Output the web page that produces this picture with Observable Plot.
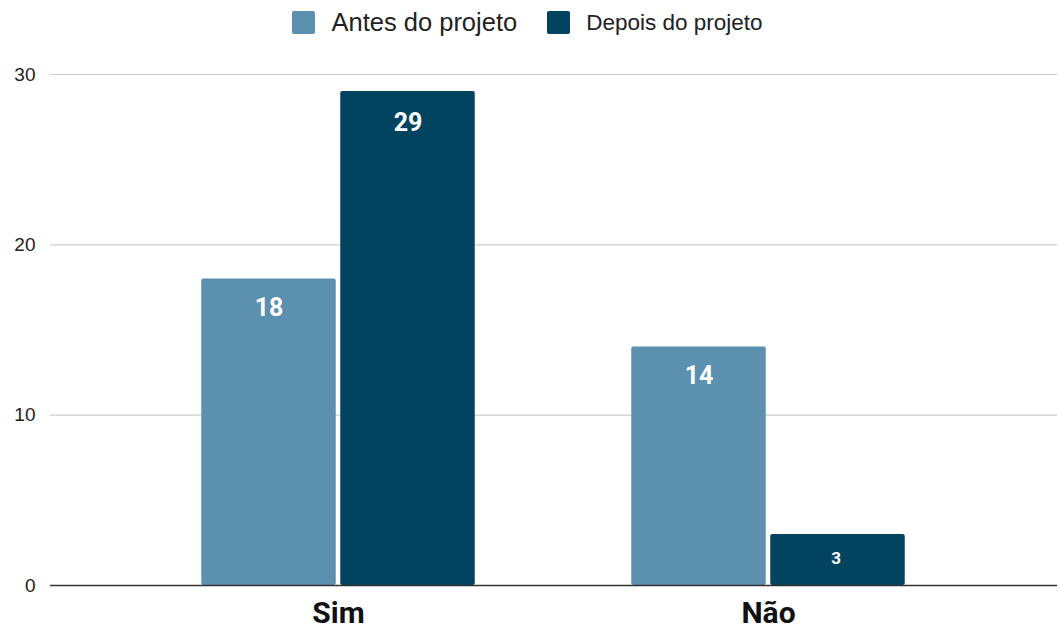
<!DOCTYPE html>
<html>
<head>
<meta charset="utf-8">
<script src="https://cdn.jsdelivr.net/npm/d3@7"></script>
<script src="https://cdn.jsdelivr.net/npm/@observablehq/plot@0.6"></script>
<style>
  html, body { margin: 0; padding: 0; background: #fff; }
  #legend { height: 45px; display: flex; align-items: center; justify-content: center; font-family: "Liberation Sans", Arial, sans-serif; color: #222; padding-right: 4px; }
  .item { display: flex; align-items: center; margin: 0 15px; }
  .sw { width: 23px; height: 23px; border-radius: 2px; margin-right: 16px; }
  svg { display: block; }
</style>
</head>
<body>
<div id="legend"></div>
<div id="chart"></div>
<script>
const categories = ["Sim", "Não"];
const series = ["Antes do projeto", "Depois do projeto"];
const antes = [18, 14];
const depois = [29, 3];
const yTicks = [0, 10, 20, 30];
const colors = ["#5b90ae", "#02445f"];

const data = [];
categories.forEach((c, i) => {
  data.push({category: c, series: series[0], value: antes[i]});
  data.push({category: c, series: series[1], value: depois[i]});
});

// legend
const legend = document.getElementById("legend");
const legendSizes = [25.5, 22.5];
series.forEach((s, i) => {
  const it = document.createElement("div");
  it.className = "item";
  it.innerHTML = `<div class="sw" style="background:${colors[i]}"></div><span style="font-size:${legendSizes[i]}px">${s}</span>`;
  legend.appendChild(it);
});

const bw = 430.5; // band width in px
const half = bw / 2;
const barW = 135, gap = 4;

const chart = Plot.plot({
  width: 1059,
  height: 588,
  marginLeft: 50,
  marginRight: 2,
  marginTop: 29,
  marginBottom: 48,
  style: {fontFamily: "Liberation Sans, Arial, sans-serif", background: "#fff"},
  x: {domain: categories, padding: 0, range: [121.75, 983.25], label: null},
  y: {domain: [0, 30], label: null},
  color: {domain: series, range: colors},
  marks: [
    Plot.ruleY(yTicks.filter(d => d > 0), {stroke: "#cccccc", strokeWidth: 1.2}),
    Plot.barY(data.filter(d => d.series === series[0]), {
      x: "category", y: "value", fill: "series", rx: 2,
      insetLeft: half - barW - gap / 2, insetRight: half + gap / 2
    }),
    Plot.barY(data.filter(d => d.series === series[1]), {
      x: "category", y: "value", fill: "series", rx: 2,
      insetLeft: half + gap / 2, insetRight: half - barW - gap / 2
    }),
    Plot.ruleY([0], {stroke: "#333", strokeWidth: 1.5}),
    Plot.text(data.filter(d => d.series === series[0]), {
      x: "category", y: "value", text: d => String(d.value), dx: -(gap / 2 + barW / 2), dy: 29,
      fill: "#fff", fontSize: 25, fontWeight: "bold", fontFamily: "Roboto, sans-serif"
    }),
    Plot.text(data.filter(d => d.series === series[1] && d.value >= 5), {
      x: "category", y: "value", text: d => String(d.value), dx: gap / 2 + barW / 2, dy: 31,
      fill: "#fff", fontSize: 25, fontWeight: "bold", fontFamily: "Roboto, sans-serif"
    }),
    Plot.text(data.filter(d => d.series === series[1] && d.value < 5), {
      x: "category", y: "value", text: d => String(d.value), dx: gap / 2 + barW / 2 - 2, dy: 24,
      fill: "#fff", fontSize: 17, fontWeight: "bold", fontFamily: "Roboto, sans-serif"
    }),
    Plot.axisY({ticks: yTicks, tickSize: 0, tickPadding: 15, fontSize: 19, color: "#222"}),
    Plot.axisX({tickSize: 0, tickPadding: 16, fontSize: 30, fontWeight: "bold", fontFamily: "Roboto, sans-serif", color: "#111"})
  ]
});
document.getElementById("chart").appendChild(chart);
</script>
</body>
</html>
